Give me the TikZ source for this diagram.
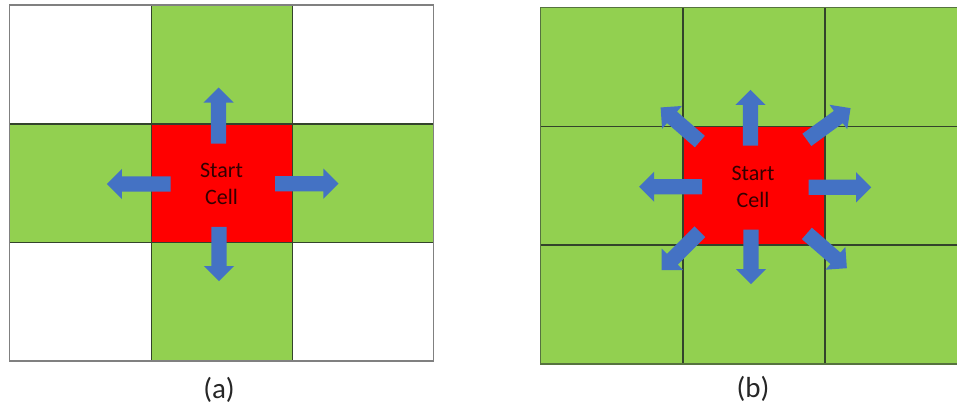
\documentclass[tikz,border=0pt]{standalone}
\usepackage{fontspec}
\setmainfont{Carlito}
\usepackage{xcolor}
\usetikzlibrary{shapes.arrows}

\definecolor{cellgreen}{HTML}{92D050}
\definecolor{cellred}{HTML}{FF0000}
\definecolor{arrowblue}{HTML}{4472C4}
\definecolor{innerline}{HTML}{33432B}
\definecolor{outergray}{HTML}{808080}
\definecolor{outergreen}{HTML}{56733F}

\begin{document}
\begin{tikzpicture}[x=1pt, y=-1pt,
  innergrid/.style={draw=innerline, line width=1.2pt},
  movearrow/.style={single arrow, fill=arrowblue, draw=none, inner sep=7.4pt,
    single arrow head extend=7.5pt, single arrow head indent=0pt,
    single arrow tip angle=90, minimum height=#1, anchor=tail},
  celltext/.style={align=center, text=black!80!red, font=\fontsize{22}{27}\selectfont},
  caption/.style={text=black!85, font=\fontsize{29}{34}\selectfont}]
  \clip (0,0) rectangle (957,407);
  \fill[white] (0,0) rectangle (957,407);

  % (a) four neighbours
  \fill[cellgreen] (151.5,5) rectangle (292.5,361);
  \fill[cellgreen] (9.5,124) rectangle (433.5,242.5);
  \fill[cellred] (151.5,124) rectangle (292.5,242.5);
  \foreach \gx in {151.5,292.5}
    \draw[innergrid] (\gx,5) -- (\gx,361);
  \foreach \gy in {124,242.5}
    \draw[innergrid] (9.5,\gy) -- (433.5,\gy);
  \draw[outergray, line width=1.2pt] (9.5,5) rectangle (433.5,361);

  \foreach \nm/\px/\py/\ang/\len in {upA/218.5/143.7/90/56, leftA/170.7/184/180/63.7,
      rightA/275/183.7/0/63.3, downA/219/226.7/-90/54.3}
    \node[movearrow=\len pt, rotate=\ang] (\nm) at (\px,\py) {};
  \node[celltext] (startA) at (221.5,183.5) {Start\\Cell};
  \node[caption] (capA) at (219,390) {(a)};

  % (b) eight neighbours
  \fill[cellgreen] (540.5,7.5) rectangle (967,364);
  \fill[cellred] (683,126.5) rectangle (825,245);
  \foreach \gx in {683,825}
    \draw[innergrid] (\gx,7.5) -- (\gx,364);
  \foreach \gy in {126.5,245}
    \draw[innergrid] (540.5,\gy) -- (967,\gy);
  \draw[outergreen, line width=1.2pt] (540.5,7.5) rectangle (967,364);

  \foreach \nm/\px/\py/\ang/\len in {upB/750.5/145.7/90/55.7, leftB/702.3/186.7/180/63,
      rightB/808.3/187.3/0/62.7, downB/751/229.3/-90/54.7,
      upleftB/700/141.7/139/52, uprightB/806.7/140/36/54,
      downleftB/700/231.7/225/54, downrightB/806.7/233.3/-41/53}
    \node[movearrow=\len pt, rotate=\ang] (\nm) at (\px,\py) {};
  \node[celltext] (startB) at (753,186.5) {Start\\Cell};
  \node[caption] (capB) at (753,389) {(b)};
\end{tikzpicture}
\end{document}
